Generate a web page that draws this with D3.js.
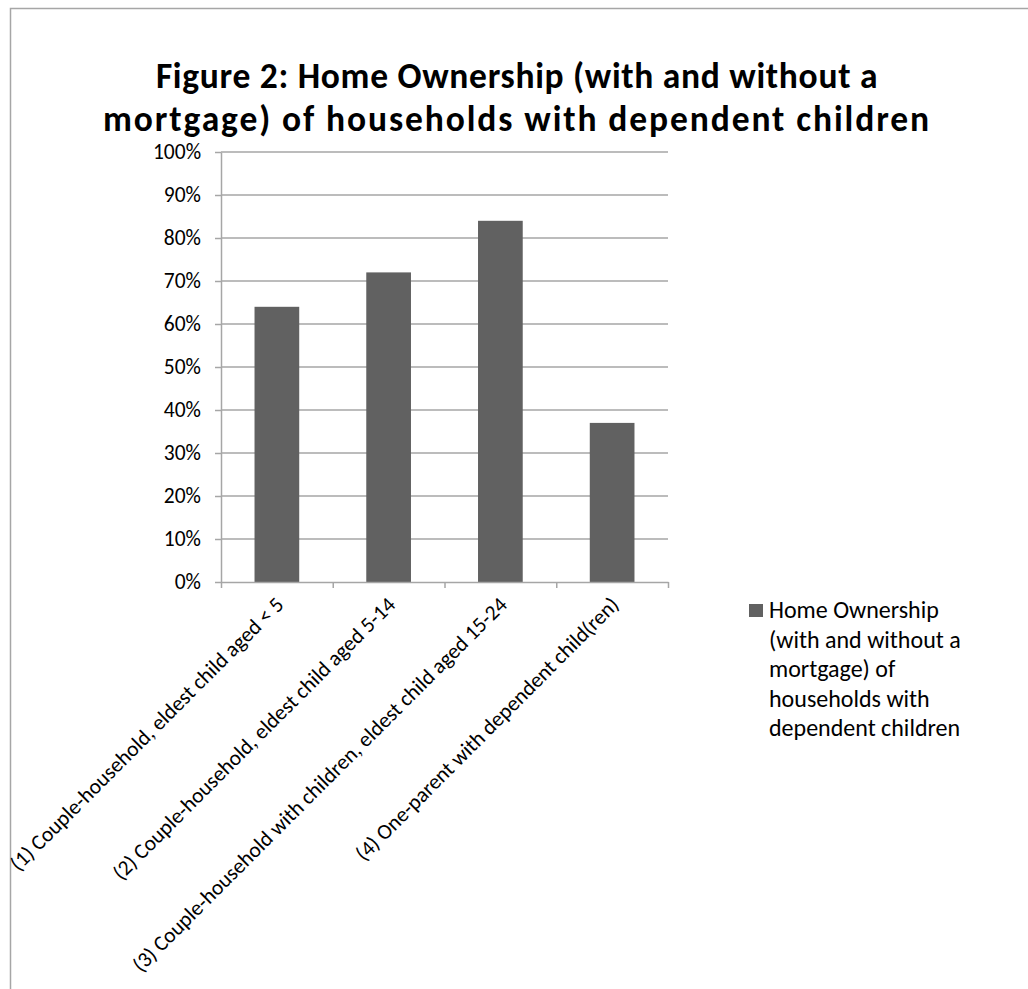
<!DOCTYPE html>
<html>
<head>
<meta charset="utf-8">
<script src="https://cdnjs.cloudflare.com/ajax/libs/d3/7.8.5/d3.min.js"></script>
<style>
  body { margin:0; background:#fff; }
  text { font-family: Calibri, Carlito, Lato, sans-serif; fill:#000; }
</style>
</head>
<body>
<div id="canvas"></div>
<script>
// chart values
var categories = [
  '(1) Couple-household, eldest child aged < 5',
  '(2) Couple-household, eldest child aged 5-14',
  '(3) Couple-household with children, eldest child aged 15-24',
  '(4) One-parent with dependent child(ren)'
];
var values = [64, 72, 84, 37];
var yTicks = [0,10,20,30,40,50,60,70,80,90,100];
var titleLines = ['Figure 2: Home Ownership (with and without a',
                  'mortgage) of households with dependent children'];
var legendLines = ['Home Ownership', '(with and without a', 'mortgage) of',
                   'households with', 'dependent children'];

var W = 1028, H = 989;
var m = {t:152, l:221, r:360, b:407};   // plot box: x 221..668, y 152..582
var w = W - m.l - m.r, h = H - m.t - m.b;
var barColor = '#616161', lineColor = '#a6a6a6';

var svg = d3.select('#canvas').append('svg')
  .attr('width', W).attr('height', H);

// outer chart frame (runs off right/bottom)
svg.append('rect')
  .attr('x', 10.5).attr('y', 8.5)
  .attr('width', W + 20).attr('height', H + 20)
  .attr('fill', 'none').attr('stroke', lineColor).attr('stroke-width', 1.5);

// title, one text per line
svg.selectAll('.title').data(titleLines).enter().append('text')
  .attr('class', 'title')
  .attr('x', 517).attr('y', function(d, i){ return 88 + i * 43; })
  .attr('text-anchor', 'middle')
  .style('font-size', '35.5px').style('font-weight', 'bold')
  .style('letter-spacing', function(d, i){ return i ? '1.9px' : '0.7px'; })
  .text(function(d){ return d; });

var plot = svg.append('g')
  .attr('transform', 'translate(' + m.l + ',' + m.t + ')');

var scaleY = d3.scaleLinear().domain([0, 100]).range([h, 0]);
var scaleX = d3.scaleBand().domain(categories).range([0, w])
  .paddingInner(0.6).paddingOuter(0.3);
var scaleTick = d3.scaleLinear().domain([0, categories.length]).range([0, w]);

// gridlines
plot.selectAll('.grid').data(yTicks.slice(1)).enter().append('line')
  .attr('class', 'grid')
  .attr('x1', 0).attr('x2', w)
  .attr('y1', function(d){ return scaleY(d); })
  .attr('y2', function(d){ return scaleY(d); })
  .attr('stroke', lineColor).attr('stroke-width', 1.5);

// bars
plot.selectAll('rect.bar').data(values).enter().append('rect')
  .attr('class', 'bar')
  .attr('x', function(d, i){ return scaleX(categories[i]); })
  .attr('y', function(d){ return scaleY(d); })
  .attr('width', scaleX.bandwidth())
  .attr('height', function(d){ return h - scaleY(d); })
  .attr('fill', barColor);

// y axis
var axisY = d3.axisLeft(scaleY).tickValues(yTicks)
  .tickFormat(function(d){ return d + '%'; })
  .tickSize(6).tickSizeOuter(0).tickPadding(14);
var gy = plot.append('g').call(axisY);
gy.selectAll('line, path').attr('stroke', lineColor).attr('stroke-width', 1.5);
gy.selectAll('text').style('font-size', '21.5px').attr('fill', '#000')
  .style('font-family', 'Calibri, Carlito, Lato, sans-serif');

// x axis (ticks at category boundaries)
var axisX = d3.axisBottom(scaleTick).tickValues(d3.range(categories.length + 1))
  .tickFormat('').tickSize(6).tickSizeOuter(0);
var gx = plot.append('g').attr('transform', 'translate(0,' + h + ')').call(axisX);
gx.selectAll('line, path').attr('stroke', lineColor).attr('stroke-width', 1.5);

// rotated category labels
plot.selectAll('.xlab').data(categories).enter().append('text')
  .attr('class', 'xlab')
  .attr('text-anchor', 'end')
  .style('font-size', '21.5px')
  .attr('transform', function(d){
    var cx = scaleX(d) + scaleX.bandwidth() / 2 + 8;
    return 'translate(' + cx + ',' + (h + 24) + ') rotate(-45)';
  })
  .text(function(d){ return d; });

// legend
var legend = svg.append('g').attr('transform', 'translate(749,604)');
legend.append('rect').attr('width', 14).attr('height', 13).attr('fill', barColor);
legend.append('text')
  .attr('x', 20).attr('y', 14)
  .style('font-size', '24px')
  .selectAll('tspan').data(legendLines).enter().append('tspan')
  .attr('x', 20).attr('dy', function(d, i){ return i ? 29.5 : 0; })
  .text(function(d){ return d; });
</script>
</body>
</html>
